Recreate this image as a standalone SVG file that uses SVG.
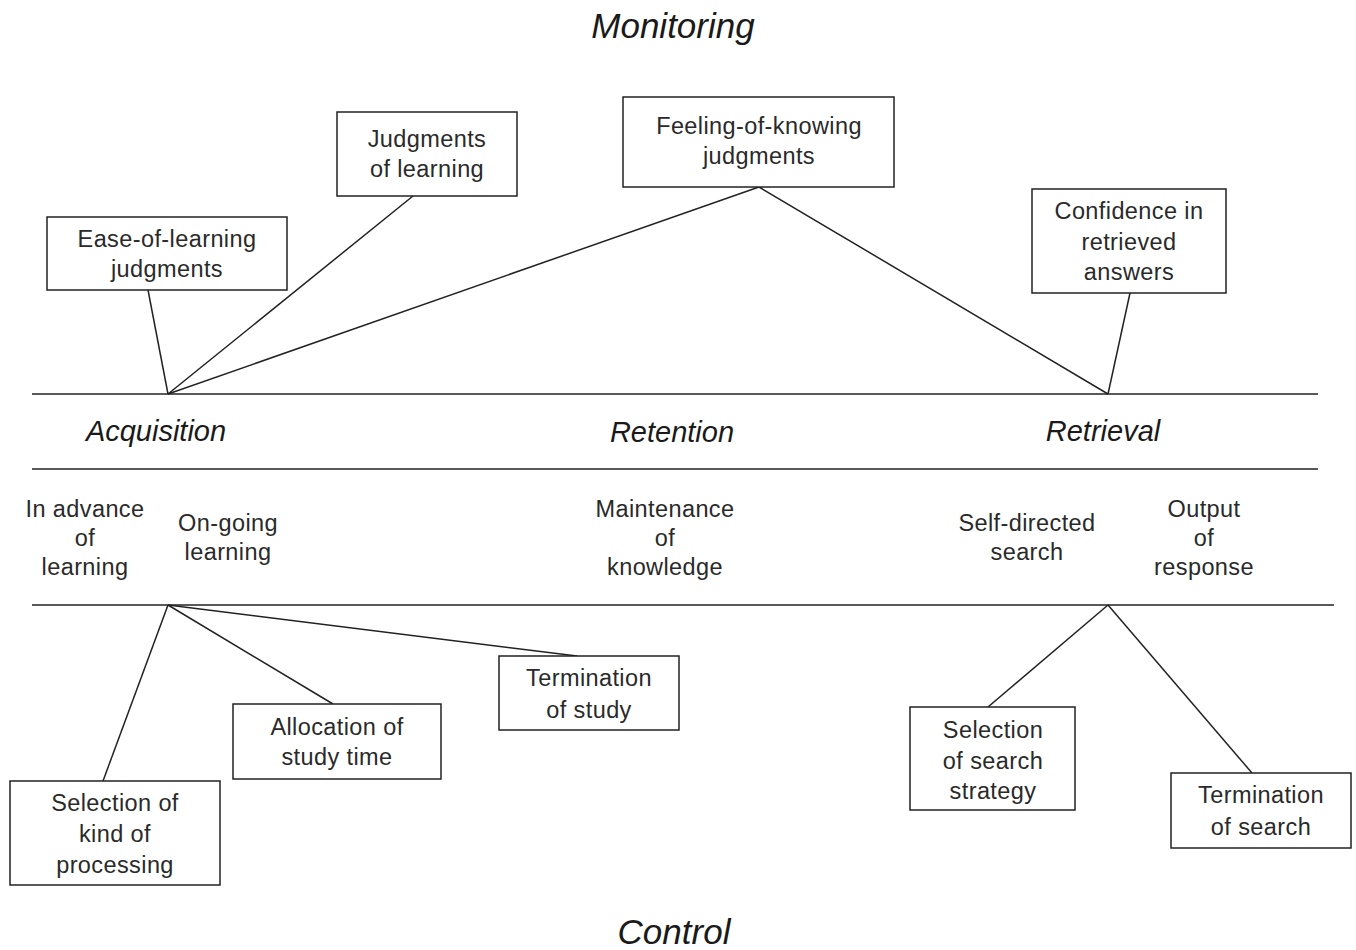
<svg xmlns="http://www.w3.org/2000/svg" width="1356" height="950" viewBox="0 0 1356 950">
<style>
.bx{fill:#fff;stroke:#222;stroke-width:1.5}
.t{font-family:"Liberation Sans",Arial,sans-serif;font-size:23.5px;fill:#2a2a2a;text-anchor:middle;letter-spacing:0.4px}
.h{font-family:"Liberation Sans",Arial,sans-serif;font-size:29px;font-style:italic;fill:#1a1a1a;text-anchor:middle}
.hb{font-family:"Liberation Sans",Arial,sans-serif;font-size:35px;font-style:italic;fill:#1a1a1a;text-anchor:middle}
.c line{stroke:#222;stroke-width:1.5}
</style>
<rect width="1356" height="950" fill="#fff"/>
<text class="hb" x="673" y="38">Monitoring</text>
<text class="hb" x="674" y="944">Control</text>
<g class="c" id="connectors">
<line x1="32" y1="394" x2="1318" y2="394"/>
<line x1="32" y1="469" x2="1318" y2="469"/>
<line x1="32" y1="605" x2="1334" y2="605"/>
<line x1="148" y1="290" x2="168" y2="394"/>
<line x1="413" y1="196" x2="168" y2="394"/>
<line x1="759" y1="187" x2="168" y2="394"/>
<line x1="759" y1="187" x2="1108" y2="394"/>
<line x1="1130" y1="293" x2="1108" y2="394"/>
<line x1="168" y1="605" x2="103" y2="781"/>
<line x1="168" y1="605" x2="333" y2="704"/>
<line x1="168" y1="605" x2="577" y2="656"/>
<line x1="1108" y1="605" x2="988" y2="707"/>
<line x1="1108" y1="605" x2="1252" y2="773"/>
</g>
<g id="stages">
<text class="h" x="156" y="441">Acquisition</text>
<text class="h" x="672" y="442">Retention</text>
<text class="h" x="1103" y="441">Retrieval</text>
</g>
<g id="phases">
<text class="t" x="85" y="517">In advance</text><text class="t" x="85" y="546">of</text><text class="t" x="85" y="575">learning</text>
<text class="t" x="228" y="531">On-going</text><text class="t" x="228" y="560">learning</text>
<text class="t" x="665" y="517">Maintenance</text><text class="t" x="665" y="546">of</text><text class="t" x="665" y="575">knowledge</text>
<text class="t" x="1027" y="531">Self-directed</text><text class="t" x="1027" y="560">search</text>
<text class="t" x="1204" y="517">Output</text><text class="t" x="1204" y="546">of</text><text class="t" x="1204" y="575">response</text>
</g>
<g id="ease"><rect class="bx" x="47" y="217" width="240" height="73"/><text class="t" x="167" y="247">Ease-of-learning</text><text class="t" x="167" y="277">judgments</text></g>
<g id="jol"><rect class="bx" x="337" y="112" width="180" height="84"/><text class="t" x="427" y="147">Judgments</text><text class="t" x="427" y="177">of learning</text></g>
<g id="fok"><rect class="bx" x="623" y="97" width="271" height="90"/><text class="t" x="759" y="134">Feeling-of-knowing</text><text class="t" x="759" y="164">judgments</text></g>
<g id="conf"><rect class="bx" x="1032" y="189" width="194" height="104"/><text class="t" x="1129" y="219">Confidence in</text><text class="t" x="1129" y="250">retrieved</text><text class="t" x="1129" y="280">answers</text></g>
<g id="selkind"><rect class="bx" x="10" y="781" width="210" height="104"/><text class="t" x="115" y="811">Selection of</text><text class="t" x="115" y="842">kind of</text><text class="t" x="115" y="873">processing</text></g>
<g id="alloc"><rect class="bx" x="233" y="704" width="208" height="75"/><text class="t" x="337" y="735">Allocation of</text><text class="t" x="337" y="765">study time</text></g>
<g id="termstudy"><rect class="bx" x="499" y="656" width="180" height="74"/><text class="t" x="589" y="686">Termination</text><text class="t" x="589" y="718">of study</text></g>
<g id="selsearch"><rect class="bx" x="910" y="707" width="165" height="103"/><text class="t" x="993" y="738">Selection</text><text class="t" x="993" y="769">of search</text><text class="t" x="993" y="799">strategy</text></g>
<g id="termsearch"><rect class="bx" x="1171" y="773" width="180" height="75"/><text class="t" x="1261" y="803">Termination</text><text class="t" x="1261" y="835">of search</text></g>
</svg>
